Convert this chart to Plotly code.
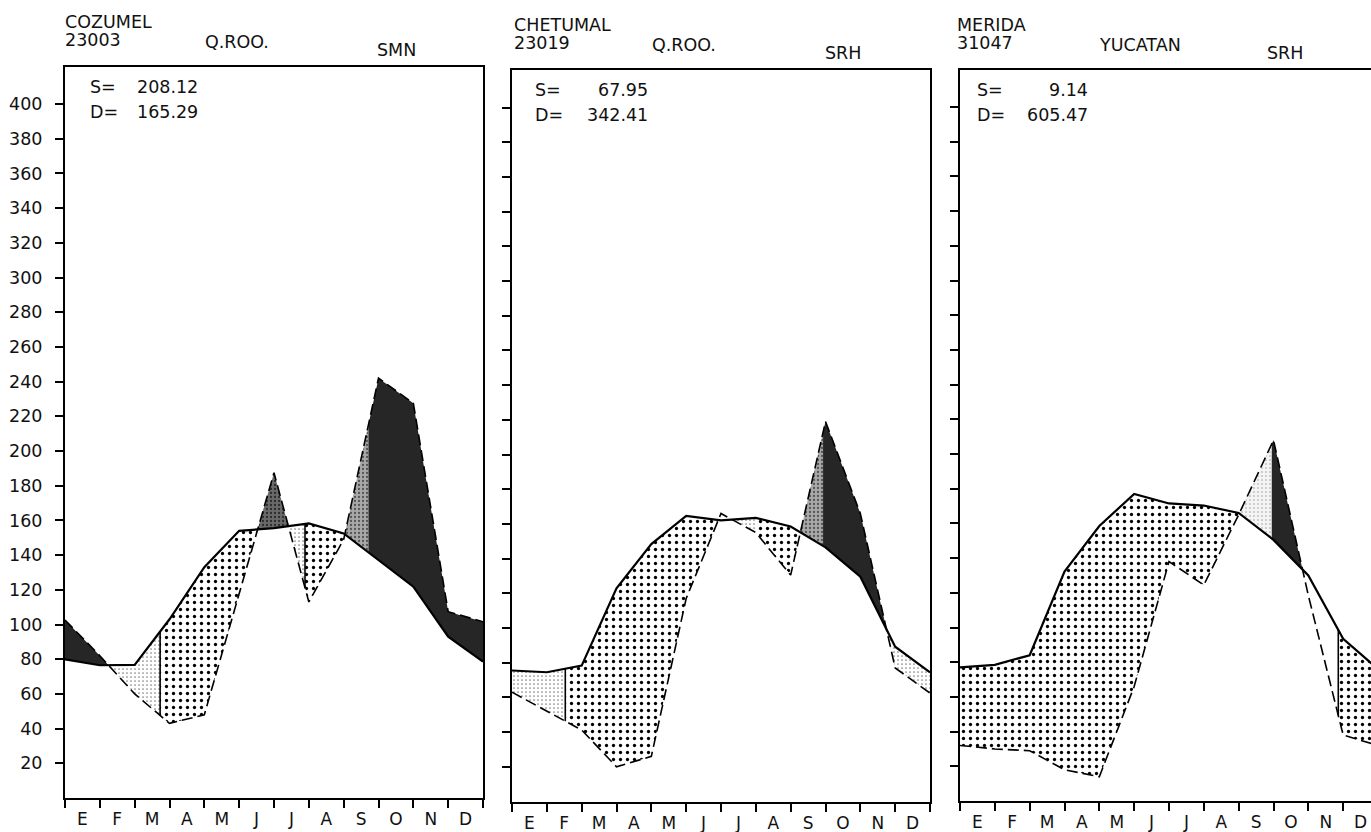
import numpy as np
import plotly.graph_objects as go

# ---------------- data ----------------
MONTHS = ["E", "F", "M", "A", "M", "J", "J", "A", "S", "O", "N", "D"]
MONTH_EDGES = list(range(13))
Y_TICKS = list(range(20, 401, 20))

STATIONS = ["COZUMEL", "CHETUMAL", "MERIDA"]
CODES = ["23003", "23019", "31047"]
STATES = ["Q.ROO.", "Q.ROO.", "YUCATAN"]
AGENCIES = ["SMN", "SRH", "SRH"]
SURPLUS = ["208.12", "67.95", "9.14"]
DEFICIT = ["165.29", "342.41", "605.47"]

# potential evapotranspiration (solid) and precipitation (dashed), mm
COZ_PE = [79.9, 76.5, 76.7, 103, 133, 154, 155.5, 158.3, 152.5, 137.4, 121.8, 93, 78.6]
COZ_P = [102.6, 82, 60, 43, 48, 118, 187.5, 113, 149, 242, 227.5, 107.4, 101.6]
CHE_PE = [75.5, 74.5, 78.3, 122.9, 148.4, 164.6, 162, 163.5, 158.5, 146.5, 129.6, 89.2, 74.5]
CHE_P = [63, 52, 41.2, 20, 26, 117, 166, 155, 130.5, 219, 166, 77, 62.5]
MER_PE = [77, 78.5, 84, 132.2, 158.5, 177, 171.5, 170.3, 166, 150.5, 130, 93.5, 76]
MER_P = [32, 30, 29, 18, 14, 66, 138, 124.5, 165, 208, 118.5, 38, 32]

# water-balance zones (month positions where the shading changes)
COZ_CUTS = [0, 1.25, 2.73, 5.53, 6.42, 6.89, 8.03, 8.71, 12]
COZ_ZONES = ["surplus", "use", "deficit", "recharge_dk", "use", "deficit", "recharge", "surplus"]
COZ_SPLITS = [2.73, 6.89, 8.71]
COZ_RULES = [2.73, 6.89]

CHE_CUTS = [0, 1.53, 5.92, 6.32, 7.0, 8.28, 8.93, 10.75, 12]
CHE_ZONES = ["use", "deficit", None, "use", "deficit", "recharge", "surplus", "use"]
CHE_SPLITS = [1.53, 7.0, 8.93]
CHE_RULES = [1.53]

MER_CUTS = [0, 8.02, 8.95, 9.83, 10.86, 12]
MER_ZONES = ["deficit", "recharge_lt", "surplus", None, "deficit"]
MER_SPLITS = [8.95, 10.86]
MER_RULES = [10.86]

# ---------------- styling / layout ----------------
W, H = 1371, 832
PX_PER_UNIT = 1.735
PANEL_BOX = [(65, 483, 67, 798), (512, 930, 70, 801.5), (960, 1378, 70, 801)]
FONT = "DejaVu Sans"
FS = 17.5

FILL = {
    "surplus": dict(fillcolor="#262626"),
    "recharge_dk": dict(fillcolor="#5e5e5e",
                        fillpattern=dict(shape=".", size=4, solidity=0.25,
                                         fgcolor="#2c2c2c", bgcolor="#6a6a6a")),
    "recharge": dict(fillcolor="#9a9a9a",
                     fillpattern=dict(shape=".", size=4, solidity=0.25,
                                      fgcolor="#555555", bgcolor="#a8a8a8")),
    "recharge_lt": dict(fillcolor="#eeeeee",
                        fillpattern=dict(shape=".", size=4, solidity=0.12,
                                         fgcolor="#9a9a9a", bgcolor="#f4f4f4")),
    "use": dict(fillcolor="#f2f2f2",
                fillpattern=dict(shape=".", size=4, solidity=0.14,
                                 fgcolor="#808080", bgcolor="white")),
    "deficit": dict(fillcolor="white",
                    fillpattern=dict(shape=".", size=7, solidity=0.17,
                                     fgcolor="black", bgcolor="white")),
}


def snap(cut, pe, p):
    grid = np.linspace(cut - 0.4, cut + 0.4, 801)
    d = np.interp(grid, MONTH_EDGES, p) - np.interp(grid, MONTH_EDGES, pe)
    idx = np.where(np.sign(d[:-1]) != np.sign(d[1:]))[0]
    if len(idx) == 0:
        return cut
    roots = [grid[i] - d[i] * (grid[i + 1] - grid[i]) / (d[i + 1] - d[i]) for i in idx]
    return min(roots, key=lambda r: abs(r - cut))


def zone_poly(a, b, pe, p):
    xs = [a] + [m for m in MONTH_EDGES if a < m < b] + [b]
    top = list(np.interp(xs, MONTH_EDGES, pe))
    bot = list(np.interp(xs, MONTH_EDGES, p))
    return xs + xs[::-1] + [a], top + bot[::-1] + [top[0]]


fig = go.Figure()
panels = [
    (COZ_PE, COZ_P, COZ_CUTS, COZ_ZONES, COZ_SPLITS, COZ_RULES),
    (CHE_PE, CHE_P, CHE_CUTS, CHE_ZONES, CHE_SPLITS, CHE_RULES),
    (MER_PE, MER_P, MER_CUTS, MER_ZONES, MER_SPLITS, MER_RULES),
]
HEAD_DX = [(-2, 138, 310, 23, 135), (0, 138, 311, 21, 138), (-5, 137, 305, 15, 130)]

annotations = []
for i, (pe, p, cuts, zones, splits, rules) in enumerate(panels):
    xa = "x" if i == 0 else f"x{i + 1}"
    ya = "y" if i == 0 else f"y{i + 1}"
    common = dict(xaxis=xa, yaxis=ya, hoverinfo="skip", showlegend=False)

    cc = [c if (c in splits or c in (0, 12)) else snap(c, pe, p) for c in cuts]
    for a, b, z in zip(cc[:-1], cc[1:], zones):
        if z is None:
            continue
        xs, ys = zone_poly(a, b, pe, p)
        fig.add_trace(go.Scatter(x=xs, y=ys, mode="lines", fill="toself",
                                 line=dict(width=0, color="rgba(0,0,0,0)"),
                                 **FILL[z], **common))
    for r in rules:
        fig.add_trace(go.Scatter(x=[r, r],
                                 y=[float(np.interp(r, MONTH_EDGES, pe)),
                                    float(np.interp(r, MONTH_EDGES, p))],
                                 mode="lines", line=dict(color="black", width=1.6),
                                 **common))
    fig.add_trace(go.Scatter(x=MONTH_EDGES, y=p, mode="lines",
                             line=dict(color="black", width=1.6, dash="11px,5px"),
                             **common))
    fig.add_trace(go.Scatter(x=MONTH_EDGES, y=pe, mode="lines",
                             line=dict(color="black", width=2.2), **common))

    L, R, T, B = PANEL_BOX[i]
    Rv = min(R, W)
    xr = 12 * (Rv - L) / (R - L)
    yr = (B - T) / PX_PER_UNIT
    xname = "xaxis" if i == 0 else f"xaxis{i + 1}"
    yname = "yaxis" if i == 0 else f"yaxis{i + 1}"
    fig.update_layout(**{
        xname: dict(domain=[L / W, Rv / W], range=[0, xr], anchor=ya,
                    tickmode="array", tickvals=[k + 0.5 for k in range(12)],
                    ticktext=MONTHS, ticks="", ticklabelstandoff=5,
                    tickfont=dict(family=FONT, size=17, color="#111"),
                    minor=dict(tickmode="array", tickvals=MONTH_EDGES, ticks="outside",
                               ticklen=8, tickwidth=1.5, tickcolor="black"),
                    showline=True, linecolor="black", linewidth=2, mirror=True,
                    showgrid=False, zeroline=False, fixedrange=True, automargin=False),
        yname: dict(domain=[(H - B) / H, (H - T) / H], range=[0, yr], anchor=xa,
                    tickmode="array", tickvals=Y_TICKS, ticks="outside", ticklen=8,
                    tickwidth=1.5, tickcolor="black", showticklabels=(i == 0),
                    ticklabelstandoff=9,
                    tickfont=dict(family=FONT, size=FS, color="#111"),
                    showline=True, linecolor="black", linewidth=2,
                    mirror=(R <= W), showgrid=False, zeroline=False,
                    fixedrange=True, automargin=False),
    })

    dn, ds, dg, dsl, dv = HEAD_DX[i]

    def txt(x, y, s, anchor="left"):
        annotations.append(dict(xref="paper", yref="paper", x=x / W, y=1 - y / H,
                                text=s, showarrow=False, xanchor=anchor,
                                yanchor="middle",
                                font=dict(family=FONT, size=FS, color="#111")))

    txt(L + dn, T - 45, STATIONS[i])
    txt(L + dn, T - 27, CODES[i])
    txt(L + ds, T - 25, STATES[i])
    txt(L + dg, T - 17, AGENCIES[i])
    txt(L + dsl, T + 20, "S=")
    txt(L + dv, T + 20, SURPLUS[i], "right")
    txt(L + dsl, T + 45, "D=")
    txt(L + dv, T + 45, DEFICIT[i], "right")

fig.update_layout(width=W, height=H, margin=dict(l=0, r=0, t=0, b=0),
                  template="none", paper_bgcolor="white", plot_bgcolor="white",
                  showlegend=False, annotations=annotations,
                  font=dict(family=FONT, size=FS, color="#111"))
fig.write_html("out.html", config={"displayModeBar": False},
               post_script="document.body.style.margin='0px';"
                           "document.body.style.overflow='hidden';")
